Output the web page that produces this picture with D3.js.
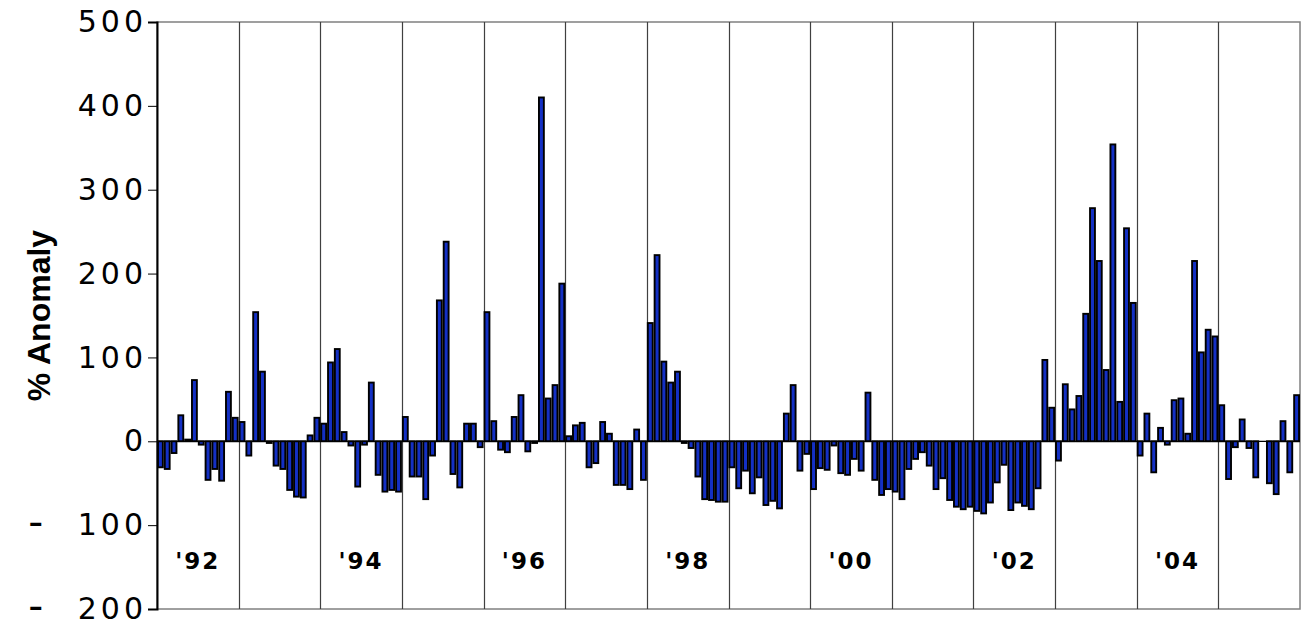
<!doctype html>
<html lang="en">
  <head>
    <meta charset="UTF-8" />
    <title>% Anomaly 1992-2005</title>
    <script src="https://d3js.org/d3.v7.min.js"></script>
    <style>
      body {
        margin: 0;
        padding: 0;
        background-color: #ffffff;
      }

      .tick-label {
        font-family: 'DejaVu Sans', Verdana, sans-serif;
        font-size: 30px;
        letter-spacing: 4px;
        fill: #000000;
      }

      .tick-minus {
        font-family: 'Liberation Mono', 'DejaVu Sans Mono', monospace;
        font-size: 40px;
        letter-spacing: 30px;
      }

      .year-label {
        font-family: 'DejaVu Sans', Verdana, sans-serif;
        font-size: 23px;
        font-weight: bold;
        letter-spacing: 2px;
        fill: #000000;
      }

      .axis-title {
        font-family: 'Liberation Sans', Arial, sans-serif;
        font-size: 32px;
        font-weight: bold;
        fill: #000000;
      }
    </style>
  </head>
  <body>
    <div id="chart"></div>

    <script>
      // Years shown, one bar per month
      const years = [1992, 1993, 1994, 1995, 1996, 1997, 1998, 1999, 2000, 2001, 2002, 2003, 2004, 2005]
      const months = ['Jan', 'Feb', 'Mar', 'Apr', 'May', 'Jun', 'Jul', 'Aug', 'Sep', 'Oct', 'Nov', 'Dec']

      // Monthly % anomaly (Jan..Dec per year)
      const v1992 = [-31, -33, -14, 31, 2, 73, -4, -46, -33, -47, 59, 28]
      const v1993 = [23, -17, 154, 83, -2, -29, -33, -58, -66, -67, 7, 28]
      const v1994 = [21, 94, 110, 11, -5, -54, -4, 70, -40, -60, -58, -60]
      const v1995 = [29, -42, -42, -69, -17, 168, 238, -39, -55, 21, 21, -7]
      const v1996 = [154, 24, -10, -13, 29, 55, -12, -2, 410, 51, 67, 188]
      const v1997 = [6, 19, 22, -31, -26, 23, 9, -52, -52, -57, 14, -46]
      const v1998 = [141, 222, 95, 70, 83, -2, -8, -42, -69, -70, -72, -72]
      const v1999 = [-31, -56, -35, -62, -43, -76, -71, -80, 33, 67, -35, -15]
      const v2000 = [-57, -32, -34, -5, -38, -40, -21, -35, 58, -46, -64, -57]
      const v2001 = [-60, -69, -33, -21, -13, -29, -57, -44, -70, -78, -81, -78]
      const v2002 = [-83, -86, -73, -49, -28, -82, -73, -77, -81, -56, 97, 40]
      const v2003 = [-23, 68, 38, 54, 152, 278, 215, 85, 354, 47, 254, 165]
      const v2004 = [-17, 33, -37, 16, -4, 49, 51, 9, 215, 106, 133, 125]
      const v2005 = [43, -45, -7, 26, -8, -43, 0, -50, -63, 24, -37, 55]

      const yTicks = [-200, -100, 0, 100, 200, 300, 400, 500]
      const labelYears = [1992, 1994, 1996, 1998, 2000, 2002, 2004]
      const labelTexts = ["'92", "'94", "'96", "'98", "'00", "'02", "'04"]

      const yearValues = [v1992, v1993, v1994, v1995, v1996, v1997, v1998, v1999, v2000, v2001, v2002, v2003, v2004, v2005]

      const data = []
      years.forEach((yr, i) => {
        months.forEach((m, j) => {
          data.push({ key: `${yr}-${m}`, year: yr, value: yearValues[i][j] })
        })
      })

      const width = 1301
      const height = 622
      const plot = { left: 157, right: 1300, top: 22, bottom: 609 }

      const svg = d3
        .select('#chart')
        .append('svg')
        .attr('width', width)
        .attr('height', height)

      const x = d3
        .scaleBand()
        .domain(data.map((d) => d.key))
        .range([plot.left, plot.right])
        .paddingInner(0.28)
        .paddingOuter(0.14)

      const xYear = d3
        .scaleBand()
        .domain(years)
        .range([plot.left, plot.right])

      const y = d3.scaleLinear().domain([-200, 500]).range([plot.bottom, plot.top])

      // Plot frame
      svg
        .append('rect')
        .attr('x', plot.left)
        .attr('y', plot.top)
        .attr('width', plot.right - plot.left)
        .attr('height', plot.bottom - plot.top)
        .attr('fill', 'none')
        .attr('stroke', '#808080')
        .attr('stroke-width', 1.5)

      // Year separators
      svg
        .selectAll('.year-line')
        .data(years.slice(1))
        .enter()
        .append('line')
        .attr('x1', (d) => Math.round(xYear(d)) + 0.5)
        .attr('x2', (d) => Math.round(xYear(d)) + 0.5)
        .attr('y1', plot.top)
        .attr('y2', plot.bottom)
        .attr('stroke', '#404040')
        .attr('stroke-width', 1.2)

      // Bars
      svg
        .selectAll('.bar')
        .data(data)
        .enter()
        .append('rect')
        .attr('x', (d) => x(d.key))
        .attr('y', (d) => y(Math.max(0, d.value)))
        .attr('width', x.bandwidth())
        .attr('height', (d) => Math.abs(y(d.value) - y(0)))
        .attr('fill', '#1430c4')
        .attr('stroke', '#000000')
        .attr('stroke-width', 1.9)

      // Zero line
      svg
        .append('line')
        .attr('x1', plot.left)
        .attr('x2', plot.right)
        .attr('y1', y(0))
        .attr('y2', y(0))
        .attr('stroke', '#000000')
        .attr('stroke-width', 1.2)

      // Y axis
      const yAxis = svg
        .append('g')
        .attr('transform', `translate(${plot.left}, 0)`)
        .call(d3.axisLeft(y).tickValues(yTicks).tickSize(9).tickPadding(1).tickFormat(''))

      yAxis.attr('font-size', null).attr('font-family', null)
      yAxis.select('.domain').attr('stroke', '#000000').attr('stroke-width', 2)
      yAxis.selectAll('.tick line').attr('stroke', '#000000').attr('stroke-width', 1)

      // Tick labels: the minus sign is wide and sits apart from the digits
      yAxis.selectAll('.tick text').each(function (d) {
        const t = d3.select(this).attr('class', 'tick-label')
        if (d < 0) {
          t.append('tspan').attr('class', 'tick-minus').text('-')
          t.append('tspan').text(Math.abs(d))
        } else {
          t.text(d)
        }
      })

      // Year labels inside the plot
      svg
        .selectAll('.year-label')
        .data(labelYears)
        .enter()
        .append('text')
        .attr('class', 'year-label')
        .attr('x', (d) => xYear(d) + xYear.bandwidth() / 2)
        .attr('y', y(-143))
        .attr('dy', '0.35em')
        .attr('text-anchor', 'middle')
        .text((d, i) => labelTexts[i])

      // Axis title
      svg
        .append('text')
        .attr('class', 'axis-title')
        .attr('transform', `translate(50, ${(plot.top + plot.bottom) / 2}) rotate(-90)`)
        .attr('text-anchor', 'middle')
        .text('% Anomaly')
    </script>
  </body>
</html>
